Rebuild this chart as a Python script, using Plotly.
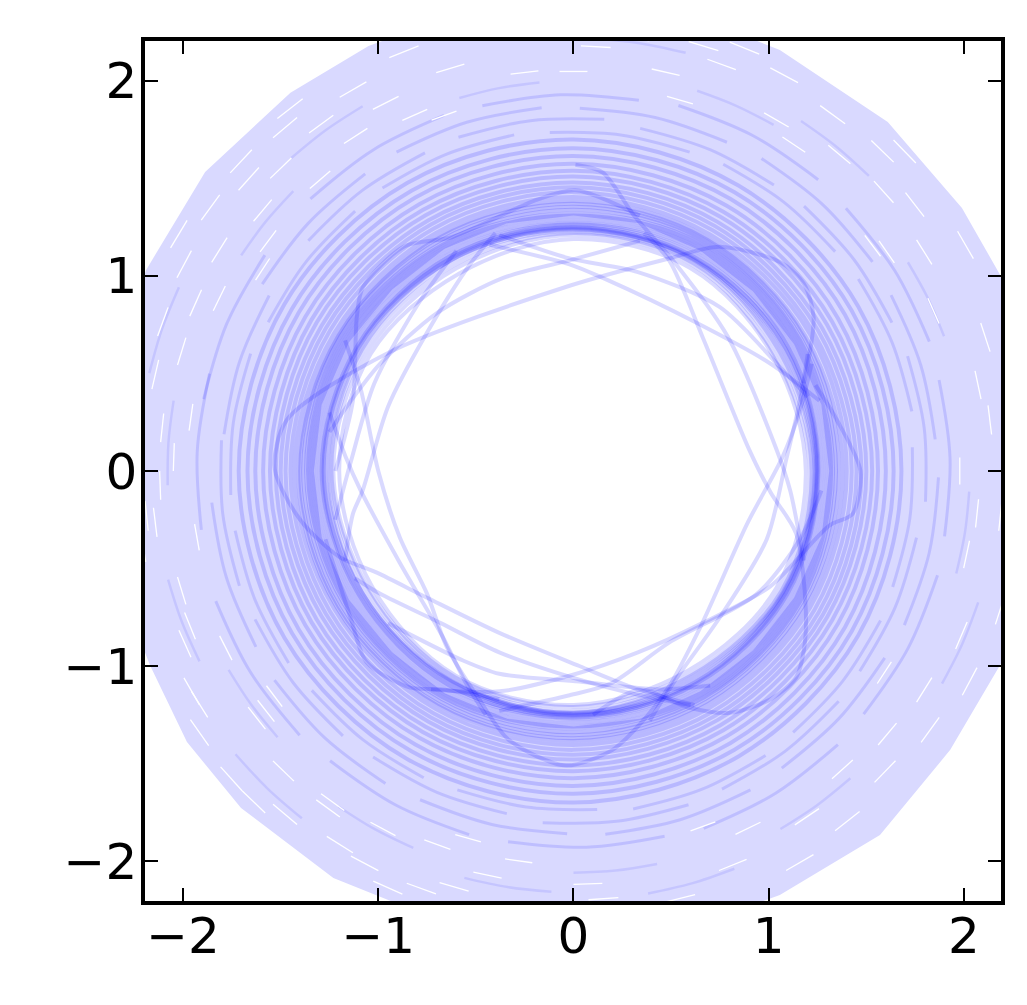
import math
import plotly.graph_objects as go

# Outer edge of the band (data units)
outer_x = [2.38,2.2,1.99,1.61,1.057,0.55,-0.1,-0.6,-1.05,-1.45,-1.887,-2.19,-2.40,-2.40,-2.17,-1.98,-1.703,-1.23,-0.6,0.1,0.55,1.057,1.57,1.93,2.2,2.39]
outer_y = [0.42,0.98,1.349,1.79,2.159,2.36,2.42,2.34,2.18,1.94,1.533,1.03,0.3,-0.4,-0.995,-1.39,-1.728,-2.087,-2.34,-2.42,-2.36,-2.174,-1.867,-1.43,-0.97,-0.3]
# Inner edge of the solid part of the band
hole_x = [1.31,1.27,1.13,0.92,0.65,0.34,0.0,-0.34,-0.66,-0.93,-1.15,-1.29,-1.33,-1.29,-1.15,-0.93,-0.66,-0.34,0.0,0.34,0.65,0.92,1.13,1.27]
hole_y = [0.0,-0.34,-0.65,-0.92,-1.13,-1.27,-1.31,-1.27,-1.14,-0.93,-0.66,-0.34,0.0,0.34,0.66,0.93,1.14,1.27,1.31,1.27,1.13,0.92,0.65,0.34]

# Radii of the winding track read at every 30 degrees
ring_deg = [0,30,60,90,120,150,180,210,240,270,300,330,360]
ring_r = [
 [1.19,1.18,1.20,1.19,1.17,1.20,1.20,1.19,1.21,1.20,1.18,1.20],
 [1.21,1.19,1.22,1.21,1.20,1.22,1.23,1.21,1.22,1.21,1.20,1.22],
 [1.22,1.21,1.23,1.22,1.22,1.24,1.24,1.22,1.23,1.23,1.21,1.23],
 [1.23,1.22,1.24,1.23,1.24,1.25,1.25,1.24,1.24,1.24,1.22,1.24],
 [1.235,1.23,1.245,1.24,1.25,1.26,1.26,1.25,1.245,1.24,1.23,1.24],
 [1.24,1.24,1.25,1.24,1.25,1.27,1.27,1.25,1.25,1.245,1.24,1.245],
 [1.245,1.25,1.25,1.245,1.26,1.27,1.28,1.26,1.25,1.25,1.25,1.25],
 [1.25,1.255,1.26,1.25,1.26,1.28,1.28,1.27,1.26,1.25,1.25,1.255],
 [1.25,1.26,1.26,1.25,1.27,1.28,1.29,1.27,1.27,1.255,1.26,1.26],
 [1.255,1.27,1.27,1.26,1.27,1.29,1.29,1.28,1.27,1.26,1.26,1.265],
 [1.26,1.27,1.28,1.265,1.28,1.30,1.30,1.29,1.28,1.265,1.27,1.27],
 [1.27,1.28,1.29,1.27,1.29,1.31,1.31,1.30,1.29,1.27,1.28,1.28],
 [1.28,1.29,1.30,1.28,1.30,1.32,1.32,1.31,1.30,1.28,1.29,1.29],
 [1.29,1.30,1.31,1.29,1.31,1.33,1.33,1.32,1.31,1.29,1.30,1.30],
 [1.30,1.31,1.32,1.30,1.32,1.34,1.34,1.33,1.32,1.30,1.31,1.31],
 [1.31,1.32,1.33,1.31,1.33,1.35,1.35,1.34,1.33,1.31,1.32,1.32],
 [1.32,1.33,1.34,1.32,1.34,1.36,1.36,1.35,1.34,1.32,1.33,1.33],
 [1.33,1.34,1.35,1.34,1.35,1.37,1.37,1.36,1.35,1.34,1.34,1.34],
 [1.345,1.35,1.36,1.355,1.365,1.38,1.385,1.375,1.365,1.355,1.35,1.35],
 [1.36,1.365,1.37,1.37,1.38,1.39,1.40,1.39,1.38,1.37,1.365,1.365],
 [1.38,1.375,1.38,1.385,1.39,1.395,1.41,1.40,1.39,1.385,1.38,1.38],
 [1.40,1.40,1.40,1.405,1.41,1.415,1.43,1.415,1.41,1.405,1.40,1.40],
 [1.425,1.42,1.425,1.43,1.435,1.44,1.45,1.44,1.435,1.43,1.425,1.425],
 [1.45,1.445,1.45,1.455,1.46,1.465,1.475,1.465,1.46,1.455,1.45,1.45],
 [1.475,1.47,1.475,1.48,1.485,1.49,1.50,1.49,1.485,1.48,1.475,1.475],
 [1.50,1.50,1.505,1.51,1.515,1.52,1.525,1.52,1.515,1.51,1.505,1.50],
 [1.53,1.53,1.535,1.54,1.545,1.55,1.555,1.55,1.545,1.54,1.535,1.53],
 [1.56,1.565,1.57,1.575,1.58,1.585,1.59,1.585,1.58,1.575,1.57,1.565],
 [1.60,1.605,1.61,1.615,1.62,1.625,1.63,1.625,1.62,1.615,1.61,1.605],
 [1.64,1.645,1.65,1.655,1.66,1.665,1.67,1.665,1.66,1.655,1.65,1.645],
 [1.68,1.685,1.69,1.70,1.705,1.71,1.715,1.71,1.705,1.70,1.69,1.685],
]

# Curves crossing the open centre and the lobes
curves = [
 ([0.62,0.33,0.03,-0.38,-0.75,-1.01,-1.20,-1.40,-1.53,-1.47,-0.94,-0.02,0.49,0.75,1.06,1.18,1.23,1.18],
  [-1.2,-1.12,-1.0,-0.83,-0.65,-0.52,-0.44,-0.25,0.01,0.26,0.61,0.95,1.09,1.15,1.07,0.96,0.79,0.45]),
 ([-0.40,-0.53,-0.75,-0.95,-1.08,-1.13,-1.17],[1.22,1.06,0.71,0.33,-0.10,-0.22,-0.46]),
 ([-1.17,-1.09,-1.0,-0.89,-0.75,-0.65,-0.49,-0.33,-0.04,0.20,0.33,0.48,0.65,0.89,1.07,1.16,1.22],
  [0.67,0.42,0.0,-0.34,-0.63,-0.90,-1.16,-1.38,-1.51,-1.43,-1.31,-1.12,-0.80,-0.27,0.07,0.31,0.55]),
 ([-1.25,-1.17,-1.09,-0.89,-0.67,-0.55,-0.45],[0.3,0.08,-0.10,-0.47,-0.85,-1.09,-1.25]),
 ([-1.12,-0.99,-0.68,-0.38,0.03,0.34,0.6],[-0.55,-0.63,-0.78,-0.93,-1.07,-1.15,-1.2]),
 ([-0.73,-0.38,-0.02,0.33,0.66,1.01,1.31,1.43,1.47,1.35,1.24],
  [-1.12,-1.13,-1.05,-0.93,-0.78,-0.59,-0.28,-0.22,0.0,0.26,0.44]),
 ([-0.38,-0.02,0.19,0.49,0.94,1.16,1.27],[-1.23,-1.15,-1.09,-0.88,-0.63,-0.35,-0.1]),
 ([0.39,0.53,0.75,0.99,1.09,1.16,1.2],[-1.28,-1.06,-0.75,-0.35,0.06,0.36,0.6]),
 ([0.36,0.49,0.66,0.90,1.01,1.14,1.19,1.18,1.14,1.01,0.80,0.58,0.34,0.1],
  [1.22,1.08,0.69,0.11,-0.11,-0.32,-0.71,-0.92,-1.06,-1.17,-1.24,-1.21,-1.12,-1.25]),
 ([0.01,0.15,0.31,0.51,0.79,1.04,1.11,1.18],[1.57,1.53,1.31,1.08,0.69,0.11,-0.10,-0.46]),
 ([-0.43,-0.02,0.15,0.63,1.01,1.26],[1.16,1.06,0.99,0.76,0.55,0.36]),
 ([-0.38,-0.02,0.33,0.75,1.07,1.2],[1.21,1.09,1.02,0.84,0.52,0.38]),
 ([0.34,-0.02,-0.36,-0.70,-0.99,-1.14,-1.25],[1.18,1.08,0.99,0.81,0.55,0.36,0.2]),
 ([-1.22,-1.13,-1.11,-1.08,-0.87,-0.62,-0.19,0.01,0.34],[0.0,0.36,0.79,0.94,1.15,1.20,1.39,1.44,1.31]),
 ([-1.27,-1.14,-1.06,-0.84,-0.67,-0.38],[-0.35,-0.76,-0.98,-1.11,-1.12,-1.17]),
 ([-0.6,-0.8,-1.02,-1.14,-1.22],[1.13,0.85,0.45,0.05,-0.25]),
 ([-0.95,-0.57,-0.38,0.03,0.44,0.7],[-0.78,-0.97,-1.04,-1.08,-1.12,-1.1]),
]

# Small gaps (white) in the outer band: start angle, radius
gap_deg = [135,128,142,118,150,110,158,100,165,132,124,146,138,154,115,105,121,147,129,141,
           112,126,136,152,161,168,176,184,192,200,208,216,224,232,240,248,
           60,52,44,36,68,48,40,30,58,75,85,28,66,54,42,33,71,80,90,95,
           -30,-38,-46,-54,-62,-70,-34,-42,-50,-58,-25,-66,-78,-20,-14,-8,-2,4,10,16,22,
           -140,-132,-124,-150,-116,-108,-158,-136,-128,-144,-120,-100,-165,-172,-180,-155,-147,-112,-104,-95,-88,
           172,-175,5,-8,88,-90,170,-172,72,-72,108,-108,35,-35,145,-145]
gap_r = [2.33,2.30,2.30,2.26,2.26,2.32,2.24,2.28,2.20,2.16,2.20,2.14,2.08,2.12,2.12,2.16,2.05,2.36,1.98,1.96,
         2.00,2.36,2.24,2.02,2.10,2.30,2.05,2.20,2.34,2.12,2.26,2.00,2.36,2.14,2.28,2.04,
         2.30,2.26,2.28,2.22,2.22,2.12,2.14,2.12,2.08,2.10,2.18,2.32,2.34,2.02,2.36,1.96,2.28,2.24,2.34,2.06,
         2.30,2.26,2.22,2.28,2.32,2.18,2.12,2.10,2.06,2.14,2.16,2.04,2.26,2.30,2.06,2.20,1.98,2.30,2.12,2.22,2.02,
         2.36,2.30,2.26,2.26,2.34,2.22,2.18,2.14,2.10,2.06,2.08,2.02,2.10,2.24,2.12,2.00,2.34,2.28,2.12,2.36,2.20,
         2.12,2.16,2.15,2.08,2.05,2.12,1.98,1.96,1.98,1.94,1.94,1.96,1.92,1.90,1.90,1.92]
gap_span_deg = [4.0]

# Where windings overlap in the outer band: start angle, radius
over_deg = [130,100,160,70,40,10,-20,-50,-80,-110,-140,-170,150,115,85,55,25,-5,-35,-65,-95,-125,-155,175,
            125,95,65,35,5,-25,-55,-85,-115,-145,-175,145,110,80,50,20,-10,-40,-70,-100,-130,-160,165,
            135,60,-15,-90,-150,120,45,-30,-105,-165,95,20,-60,-125,170,75,-5,-80,-140,155]
over_r = [1.74,1.75,1.76,1.74,1.75,1.76,1.74,1.75,1.76,1.74,1.75,1.76,
          1.80,1.80,1.81,1.79,1.80,1.81,1.79,1.80,1.81,1.79,1.80,1.81,
          1.86,1.87,1.86,1.87,1.86,1.87,1.86,1.87,1.86,1.87,1.86,
          1.93,1.94,1.93,1.95,1.94,1.93,1.94,1.95,1.93,1.94,1.95,1.93,
          2.03,2.05,2.03,2.06,2.04,2.16,2.14,2.18,2.16,2.15,2.00,2.02,2.12,2.10,2.08,2.22,2.24,2.20,2.26,2.23]
over_span_deg = [24, 12]

tick_vals = [-2, -1, 0, 1, 2]
x_range = [-2.195, 2.19]
y_range = [-2.205, 2.205]

TRACK = "rgba(0,0,255,0.15)"


def polar(r, deg):
    return r * math.cos(math.radians(deg)), r * math.sin(math.radians(deg))


def arcs(rs, degs, span):
    xs, ys = [], []
    for r, d in zip(rs, degs):
        for frac in (0.0, 0.5, 1.0):
            px, py = polar(r, d + span * frac)
            xs.append(px)
            ys.append(py)
        xs.append(None)
        ys.append(None)
    return xs, ys


fig = go.Figure()
fig.add_trace(go.Scatter(
    x=outer_x + [outer_x[0], None] + hole_x + [hole_x[0]],
    y=outer_y + [outer_y[0], None] + hole_y + [hole_y[0]],
    mode="lines", fill="toself", fillcolor="#d9d9ff",
    line=dict(width=0, color="#d9d9ff"), hoverinfo="skip"))

x, y = arcs(over_r[:47], over_deg[:47], over_span_deg[0])
fig.add_trace(go.Scatter(x=x, y=y, mode="lines", line=dict(color="rgba(0,0,255,0.12)", width=3, shape="spline"), hoverinfo="skip"))
x, y = arcs(over_r[47:], over_deg[47:], over_span_deg[1])
fig.add_trace(go.Scatter(x=x, y=y, mode="lines", line=dict(color="rgba(0,0,255,0.09)", width=2.5, shape="spline"), hoverinfo="skip"))
x, y = arcs(gap_r, gap_deg, gap_span_deg[0])
fig.add_trace(go.Scatter(x=x, y=y, mode="lines", line=dict(color="white", width=1.3), hoverinfo="skip"))

for radii in ring_r:
    pts = [polar(r, d) for r, d in zip(radii + [radii[0]], ring_deg)]
    fig.add_trace(go.Scatter(
        x=[p[0] for p in pts], y=[p[1] for p in pts], mode="lines",
        line=dict(color=TRACK, width=4, shape="spline", smoothing=1.0), hoverinfo="skip"))

for cx, cy in curves:
    fig.add_trace(go.Scatter(
        x=cx, y=cy, mode="lines",
        line=dict(color=TRACK, width=4, shape="spline", smoothing=0.8), hoverinfo="skip"))

axis = dict(tickmode="array", tickvals=tick_vals, showgrid=False, zeroline=False,
            showline=True, linecolor="black", linewidth=3.5, mirror="ticks",
            ticks="inside", ticklen=13, tickwidth=1.8, tickcolor="black",
            tickfont=dict(family="DejaVu Sans", size=50, color="black"))
fig.update_layout(
    width=1027, height=1005, autosize=False, showlegend=False,
    margin=dict(l=145, r=26, t=41, b=104, pad=0),
    paper_bgcolor="white", plot_bgcolor="white",
    xaxis=dict(range=x_range, ticklabelstandoff=-12, **axis),
    yaxis=dict(range=y_range, ticklabelstandoff=-6, **axis),
)
fig.write_html("out.html", config={"displayModeBar": False},
               post_script="document.body.style.margin='0';document.documentElement.style.overflow='hidden';")
